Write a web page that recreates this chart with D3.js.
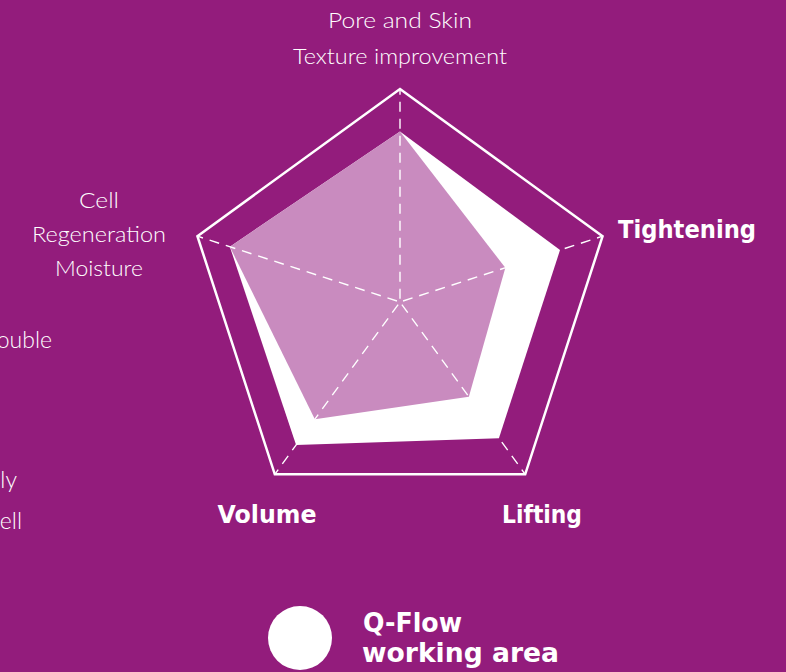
<!DOCTYPE html>
<html>
<head>
<meta charset="utf-8">
<script src="https://cdn.jsdelivr.net/npm/d3@7"></script>
<style>
  html, body { margin: 0; padding: 0; background: #931c7c; overflow: hidden; }
  #chart { width: 786px; height: 672px; }
  text { font-family: "Lato", "Open Sans", sans-serif; fill: #fff; }
  text.bold { font-family: "DejaVu Sans", "Lato", sans-serif; font-weight: 700; }
</style>
</head>
<body>
<div id="chart"></div>
<script>
// axes, clockwise from top
var axes = ["Pore and Skin\nTexture improvement", "Tightening", "Lifting", "Volume", "Cell\nRegeneration\nMoisture"];
var qflow = [8.0, 7.9, 7.9, 8.3, 8.4];
var other = [8.0, 5.2, 5.5, 6.8, 8.4];
var maxValue = 10;
var sideWords = ["Double", "evenly", "well"];

var width = 786, height = 672;
var cx = 400, cy = 302, R = 213;

var svg = d3.select("#chart").append("svg")
  .attr("width", width)
  .attr("height", height);

var r = d3.scaleLinear().domain([0, maxValue]).range([0, R]);
var angle = d3.scaleLinear().domain([0, axes.length]).range([0, 2 * Math.PI]);

function pt(i, v) {
  var a = angle(i);
  return [cx + r(v) * Math.sin(a), cy - r(v) * Math.cos(a)];
}
var line = d3.line().curve(d3.curveLinearClosed);

// outer frame
svg.append("path")
  .attr("d", line(axes.map(function(d, i){ return pt(i, maxValue); })))
  .attr("fill", "none")
  .attr("stroke", "#fff")
  .attr("stroke-width", 2.5)
  .attr("stroke-linejoin", "miter");

svg.append("path")
  .attr("d", line(qflow.map(function(v, i){ return pt(i, v); })))
  .attr("fill", "#fff");

svg.append("path")
  .attr("d", line(other.map(function(v, i){ return pt(i, v); })))
  .attr("fill", "#c98bbf");

// dashed spokes
svg.selectAll(".spoke")
  .data(axes)
  .enter().append("line")
  .attr("class", "spoke")
  .attr("x1", function(d, i){ return pt(i, 0.15)[0]; })
  .attr("y1", function(d, i){ return pt(i, 0.15)[1]; })
  .attr("x2", function(d, i){ return pt(i, maxValue)[0]; })
  .attr("y2", function(d, i){ return pt(i, maxValue)[1]; })
  .attr("stroke", "#fff")
  .attr("stroke-width", 1.4)
  .attr("stroke-dasharray", "10,7");

// axis labels (widths matched to the reference lettering)
var labelPos = [
  {x: 400, y: 28, anchor: "middle", bold: false, w: [144, 214]},
  {x: 618, y: 238, anchor: "start", bold: true, w: [138]},
  {x: 542, y: 523, anchor: "middle", bold: true, w: [80]},
  {x: 267, y: 523, anchor: "middle", bold: true, w: [99]},
  {x: 99, y: 208, anchor: "middle", bold: false, w: [40, 134, 88]}
];
axes.forEach(function(name, i) {
  var p = labelPos[i];
  name.split("\n").forEach(function(s, j) {
    svg.append("text")
      .attr("class", p.bold ? "bold" : null)
      .attr("text-anchor", p.anchor)
      .attr("x", p.x)
      .attr("y", p.y + j * (i == 0 ? 36 : 34))
      .attr("textLength", p.w[j])
      .attr("lengthAdjust", "spacingAndGlyphs")
      .style("font-size", p.bold ? "24px" : "22px")
      .style("font-weight", p.bold ? 700 : 300)
      .text(s);
  });
});

// text cut off at the left edge (only the tail shows in the reference)
var sideY = [348, 488, 529], sideX = [52, 17, 22];
sideWords.forEach(function(w, i) {
  svg.append("text")
    .attr("x", sideX[i]).attr("y", sideY[i])
    .attr("text-anchor", "end")
    .style("font-size", "23px").style("font-weight", 300)
    .text(w);
});

// legend
svg.append("circle").attr("cx", 300).attr("cy", 638).attr("r", 32).attr("fill", "#fff");
svg.append("text").attr("class", "bold").attr("x", 363).attr("y", 632)
  .attr("textLength", 99).attr("lengthAdjust", "spacingAndGlyphs")
  .style("font-size", "26px").text("Q-Flow");
svg.append("text").attr("class", "bold").attr("x", 362).attr("y", 662)
  .attr("textLength", 197).attr("lengthAdjust", "spacingAndGlyphs")
  .style("font-size", "26px").text("working area");
</script>
</body>
</html>
